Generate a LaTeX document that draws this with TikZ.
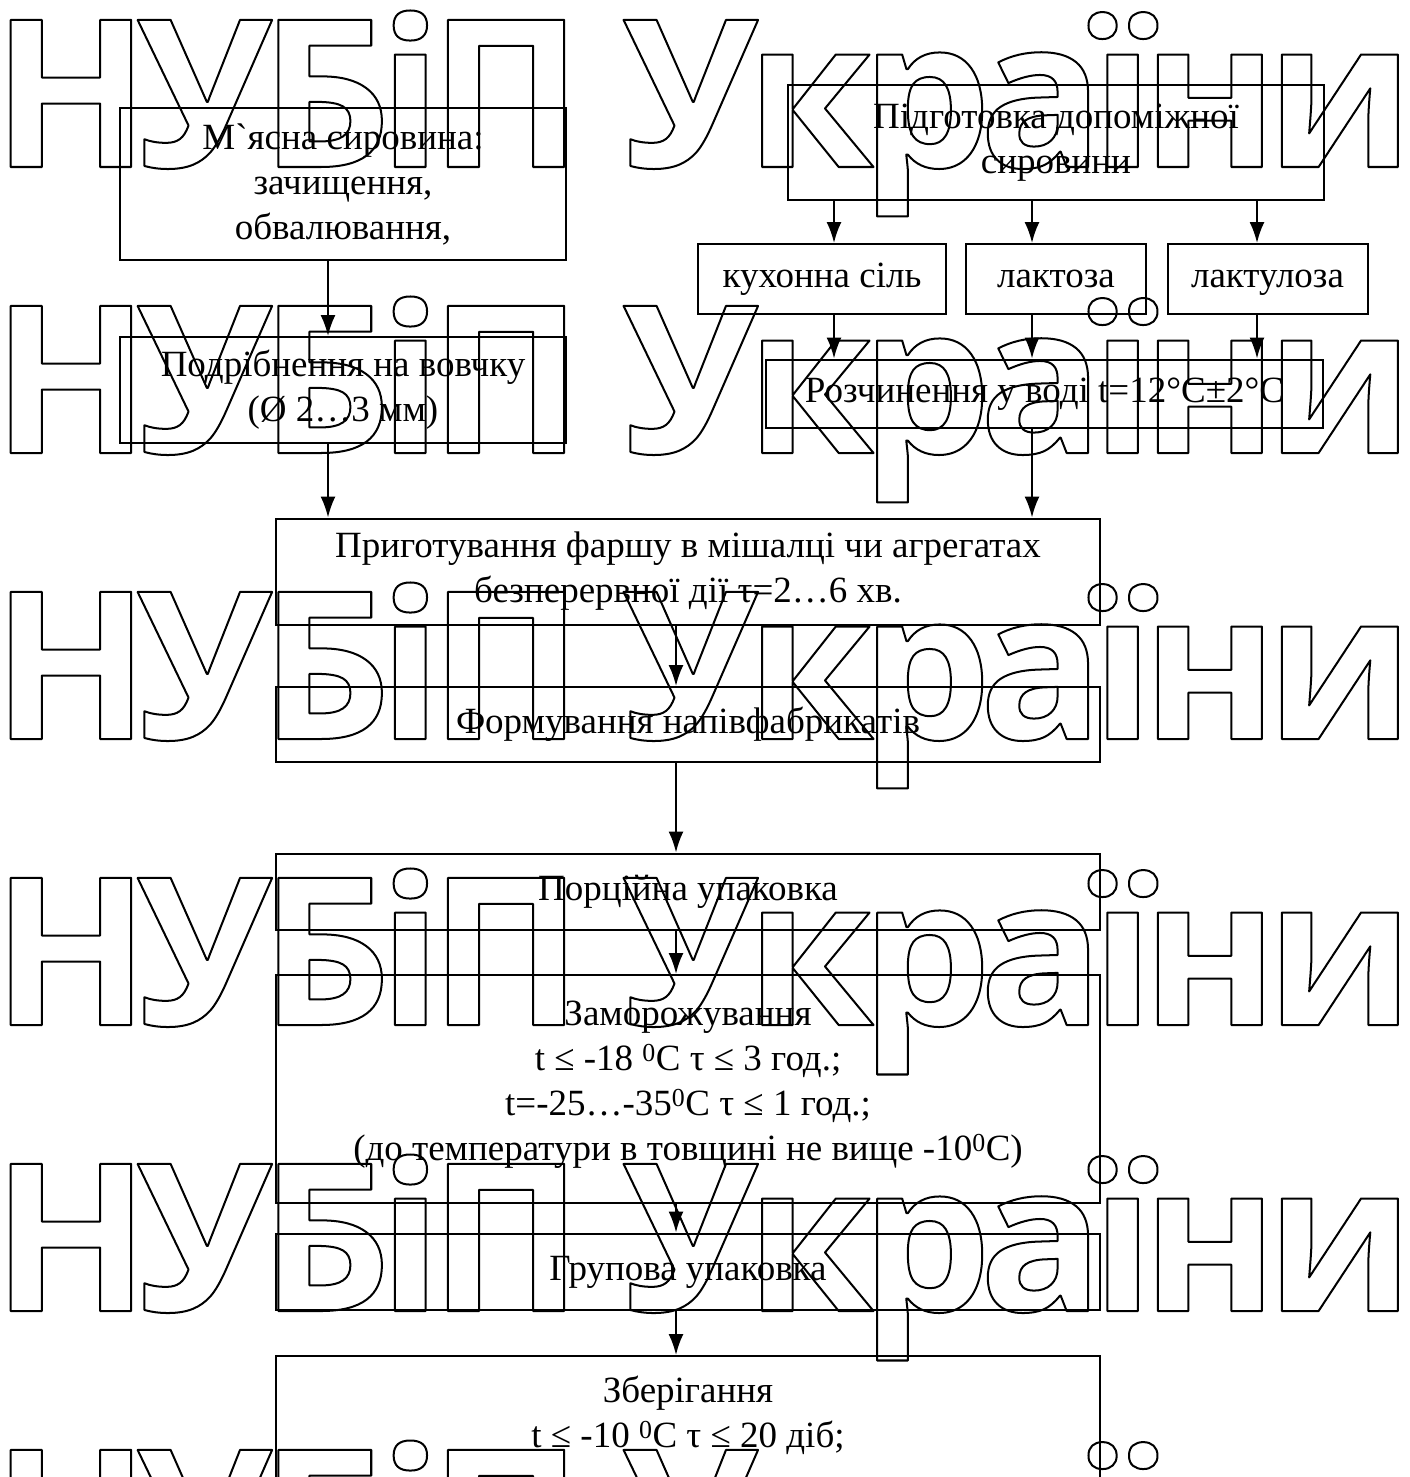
\documentclass[tikz,border=0pt]{standalone}
\usepackage{fontspec}
\setmainfont{Liberation Serif}
\newfontfamily\gravefont{Liberation Serif}[Ligatures=TeXOff]
\newfontfamily\wmfont{Open Sans}[LetterSpace=-6]
\usetikzlibrary{arrows.meta}
\tikzset{
  box/.style={draw, line width=2pt, inner sep=0pt, align=center, font=\fontsize{37}{45}\selectfont},
  one/.style={text height=26pt, text depth=9pt},
  arr/.style={line width=2pt, -{Latex[length=21pt,width=15pt]}},
  wm/.style={anchor=base west, inner sep=0pt, font=\wmfont\bfseries\fontsize{206}{206}\selectfont},
}
\newcommand\outl[1]{\special{pdf:literal direct 1 Tr 2 w 1 j}#1\special{pdf:literal direct 0 Tr}}
\begin{document}
\begin{tikzpicture}[x=1pt,y=-1pt]
\useasboundingbox (0,0) rectangle (1409,1477);
% boxes
\node[box, minimum width=446, minimum height=152] (A) at (343,184) {М{\gravefont\char"60}ясна сировина:\\ зачищення,\\ обвалювання,};
\node[box, minimum width=536, minimum height=115] (B) at (1056,142.5) {Підготовка допоміжної\\ сировини};
\node[box, one, minimum width=248, minimum height=70] (C1) at (822,279) {кухонна сіль};
\node[box, one, minimum width=180, minimum height=70] (C2) at (1056,279) {лактоза};
\node[box, one, minimum width=200, minimum height=70] (C3) at (1267.5,279) {лактулоза};
\node[box, minimum width=446, minimum height=106] (D) at (343,390) {Подрібнення на вовчку\\ (Ø 2…3 мм)};
\node[box, one, minimum width=557, minimum height=68] (E) at (1044.5,393.5) {Розчинення у воді t=12°C±2°C};
\node[box, minimum width=824, minimum height=106] (F) at (688,571.5) {Приготування фаршу в мішалці чи агрегатах\\ безперервної дії τ=2…6 хв.};
\node[box, one, minimum width=824, minimum height=75] (G) at (688,724.5) {Формування напівфабрикатів};
\node[box, one, minimum width=824, minimum height=76] (H) at (688,891.5) {Порційна упаковка};
\node[box, minimum width=824, minimum height=228] (I) at (688,1089) {};
\node[box, draw=none] (It) at (688,1085) {Заморожування\\ t ≤ -18 \textsuperscript{0}C τ ≤ 3 год.;\\ t=-25…-35\textsuperscript{0}C τ ≤ 1 год.;\\ (до температури в товщині не вище -10\textsuperscript{0}C)};
\node[box, one, minimum width=824, minimum height=76] (J) at (688,1271.5) {Групова упаковка};
\node[box, minimum width=824, minimum height=220, anchor=north] (K) at (688,1355) {};
\node[box, draw=none, anchor=north] (Kt) at (688,1375) {Зберігання\\ t ≤ -10 \textsuperscript{0}C τ ≤ 20 діб;};
% arrow columns
\coordinate (xL) at (328,0);
\coordinate (xR1) at (834,0);
\coordinate (xR2) at (1032,0);
\coordinate (xR3) at (1257,0);
\coordinate (xM) at (676,0);
\draw[arr] (xL |- A.south) -- (xL |- D.north);
\draw[arr] (xL |- D.south) -- (xL |- F.north);
\draw[arr] (xR1 |- B.south) -- (xR1 |- C1.north);
\draw[arr] (xR2 |- B.south) -- (xR2 |- C2.north);
\draw[arr] (xR3 |- B.south) -- (xR3 |- C3.north);
\draw[arr] (xR1 |- C1.south) -- (xR1 |- E.north);
\draw[arr] (xR2 |- C2.south) -- (xR2 |- E.north);
\draw[arr] (xR3 |- C3.south) -- (xR3 |- E.north);
\draw[arr] (xR2 |- E.south) -- (xR2 |- F.north);
\draw[arr] (xM |- F.south) -- (xM |- G.north);
\draw[arr] (xM |- G.south) -- (xM |- H.north);
\draw[arr] (xM |- H.south) -- (xM |- I.north);
\draw[arr] (xM |- I.south) -- (xM |- J.north);
\draw[arr] (xM |- J.south) -- (xM |- K.north);
% watermark
\foreach \k in {0,...,5}{
  \node[wm] (wm\k) at (-8,167+286*\k) {\outl{НУБіП України}};
}
\end{tikzpicture}
\end{document}
